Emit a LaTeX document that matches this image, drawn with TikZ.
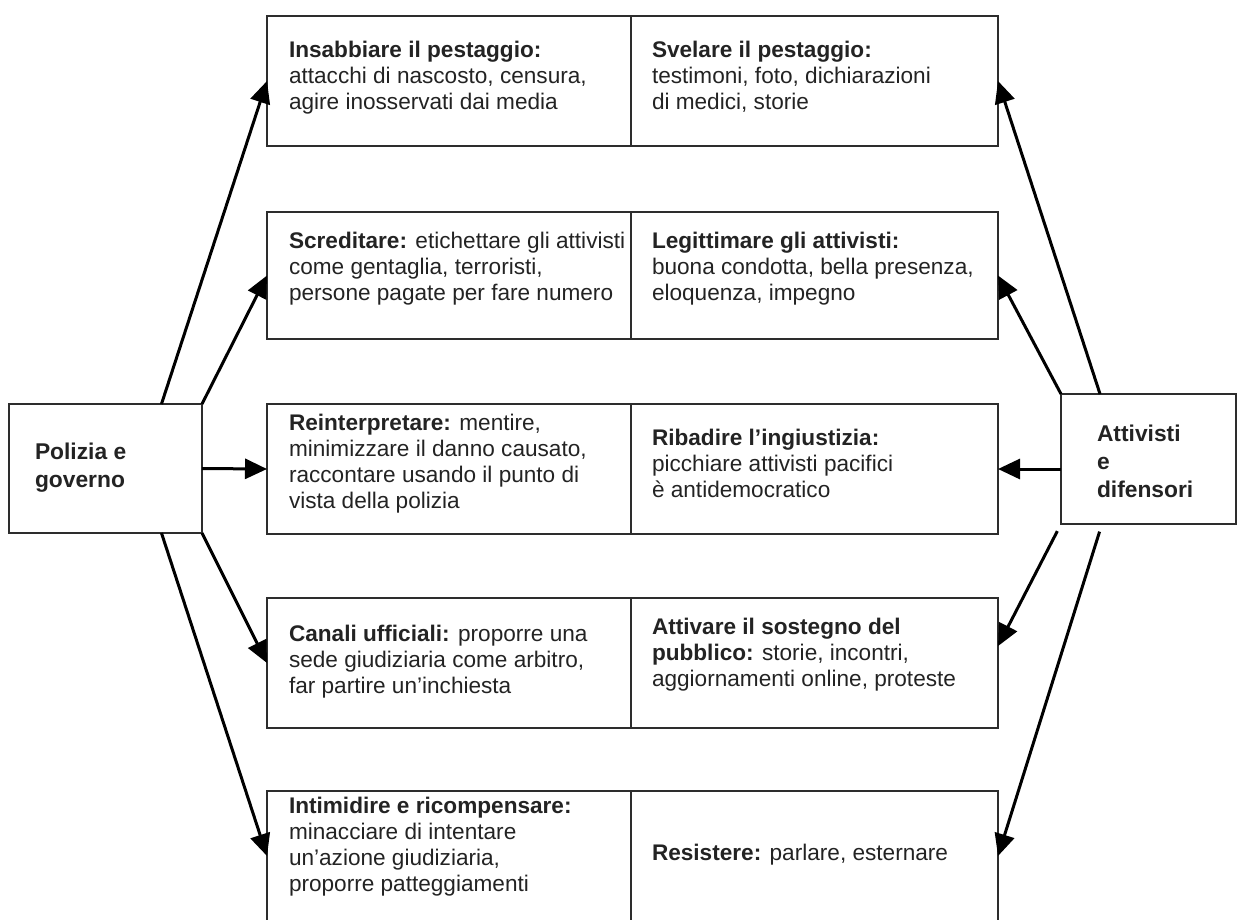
\documentclass[tikz,border=0pt]{standalone}
\usepackage{fontspec}
\setmainfont{Liberation Sans}
\usetikzlibrary{arrows.meta,calc}
\definecolor{boxc}{RGB}{45,45,45}
\definecolor{txtc}{RGB}{35,35,35}
\begin{document}
\begin{tikzpicture}[x=1pt,y=-1pt,
  box/.style={draw=boxc,line width=1.4pt,inner sep=0pt,outer sep=0pt,fill=none},
  basetxt/.style={anchor=north west,inner sep=0pt,outer sep=0pt,align=left,text=txtc},
  txt/.style={basetxt,font=\fontsize{22.6}{26}\selectfont,yshift=18.2pt},
  bigtxt/.style={basetxt,font=\fontsize{22.8}{28}\selectfont,yshift=19.6pt},
  arr/.style={line width=3pt,-{Triangle[length=22pt,width=20pt]}}]
\useasboundingbox (0,0) rectangle (1238,919);
% column boxes
\node[box,minimum width=364pt,minimum height=130pt] (bl1) at (449,81) {};
\node[box,minimum width=367pt,minimum height=130pt] (br1) at (814.5,81) {};
\node[box,minimum width=364pt,minimum height=127pt] (bl2) at (449,275.5) {};
\node[box,minimum width=367pt,minimum height=127pt] (br2) at (814.5,275.5) {};
\node[box,minimum width=364pt,minimum height=130pt] (bl3) at (449,469) {};
\node[box,minimum width=367pt,minimum height=130pt] (br3) at (814.5,469) {};
\node[box,minimum width=364pt,minimum height=130pt] (bl4) at (449,663) {};
\node[box,minimum width=367pt,minimum height=130pt] (br4) at (814.5,663) {};
\node[box,minimum width=364pt,minimum height=130pt] (bl5) at (449,856) {};
\node[box,minimum width=367pt,minimum height=130pt] (br5) at (814.5,856) {};
% actors
\node[box,minimum width=193pt,minimum height=129pt] (pg) at (105.5,468.5) {};
\node[box,minimum width=175pt,minimum height=130pt] (ad) at (1148.5,459) {};
% texts
\node[txt] (tl1) at (289,57) {\strut\textbf{Insabbiare il pestaggio:}\\attacchi di nascosto, censura,\\agire inosservati dai media};
\node[txt] (tr1) at (652,57) {\strut\textbf{Svelare il pestaggio:}\\testimoni, foto, dichiarazioni\\di medici, storie};
\node[txt] (tl2) at (289,248) {\strut\textbf{Screditare:} etichettare gli attivisti\\come gentaglia, terroristi,\\persone pagate per fare numero};
\node[txt] (tr2) at (652,248) {\strut\textbf{Legittimare gli attivisti:}\\buona condotta, bella presenza,\\eloquenza, impegno};
\node[txt] (tl3) at (289,430) {\strut\textbf{Reinterpretare:} mentire,\\minimizzare il danno causato,\\raccontare usando il punto di\\vista della polizia};
\node[txt] (tr3) at (652,445) {\strut\textbf{Ribadire l’ingiustizia:}\\picchiare attivisti pacifici\\è antidemocratico};
\node[txt] (tl4) at (289,641) {\strut\textbf{Canali ufficiali:} proporre una\\sede giudiziaria come arbitro,\\far partire un’inchiesta};
\node[txt] (tr4) at (652,634) {\strut\textbf{Attivare il sostegno del}\\\textbf{pubblico:} storie, incontri,\\aggiornamenti online, proteste};
\node[txt] (tl5) at (289,813) {\strut\textbf{Intimidire e ricompensare:}\\minacciare di intentare\\un’azione giudiziaria,\\proporre patteggiamenti};
\node[txt] (tr5) at (652,860) {\strut\textbf{Resistere:} parlare, esternare};
\node[bigtxt] (tpg) at (35,459) {\strut\textbf{Polizia e}\\\textbf{governo}};
\node[bigtxt] (tad) at (1097,441) {\strut\textbf{Attivisti}\\\textbf{e}\\\textbf{difensori}};
% arrows from police
\draw[arr] ($(pg.north west)!0.79!(pg.north east)$) -- (bl1.west);
\draw[arr] (pg.north east) -- (bl2.west);
\draw[arr] (pg.east) -- (bl3.west);
\draw[arr] (pg.south east) -- (bl4.west);
\draw[arr] ($(pg.south west)!0.79!(pg.south east)$) -- (bl5.west);
% arrows from activists
\draw[arr] ($(ad.north west)!0.223!(ad.north east)$) -- (br1.east);
\draw[arr] (ad.north west) -- (br2.east);
\draw[arr] (ad.west |- bl3.west) -- (br3.east);
\draw[arr,shorten <=8pt] (ad.south west) -- ($(br4.north east)!0.37!(br4.south east)$);
\draw[arr,shorten <=8pt] ($(ad.south west)!0.234!(ad.south east)$) -- (br5.east);
\end{tikzpicture}
\end{document}
